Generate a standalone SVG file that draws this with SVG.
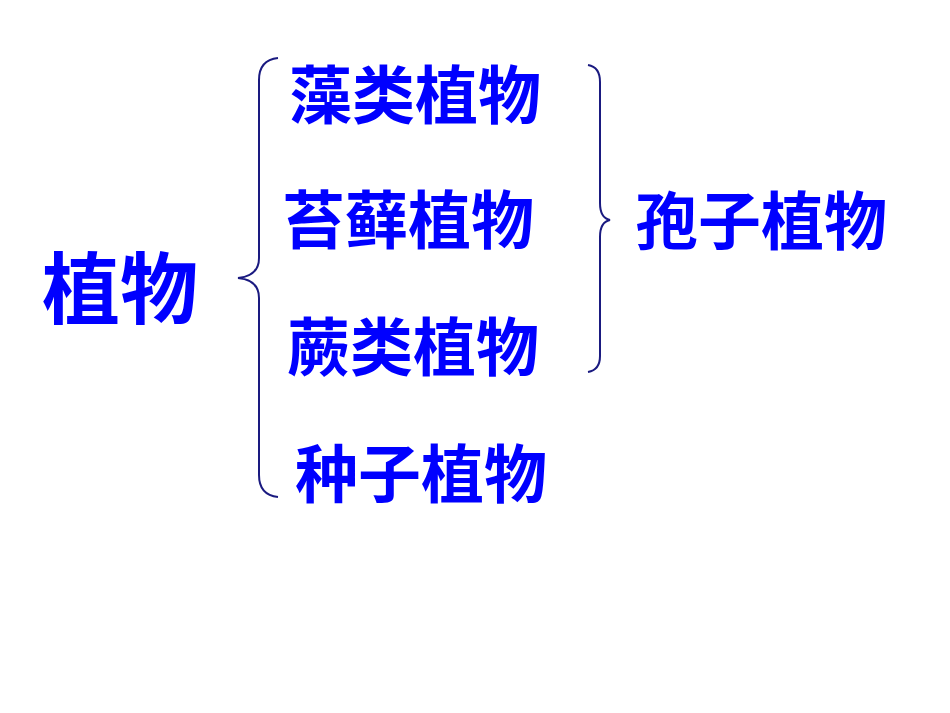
<svg xmlns="http://www.w3.org/2000/svg" width="950" height="713" viewBox="0 0 950 713">
<style>
text{font-family:"Noto Sans CJK SC",sans-serif;font-weight:bold;fill:#0000FF}
.b{fill:none;stroke:#1a1a80;stroke-width:2}
</style>
<rect width="950" height="713" fill="#fff"/>
<g id="connectors">
<path class="b" d="M278,58 Q259,60 259,80 L259,258 Q259,276 238,278 Q259,280 259,298 L259,475 Q259,495 278,497"/>
<path class="b" d="M588,65 Q600,67 600,82 L600,203 Q600,218 610,220 Q600,222 600,237 L600,356 Q600,370 588,372"/>
</g>
<g id="root"><text x="42" y="318" font-size="78">植物</text></g>
<g id="n1"><text x="289" y="118" font-size="63">藻类植物</text></g>
<g id="n2"><text x="282" y="243" font-size="63">苔藓植物</text></g>
<g id="n3"><text x="287" y="370" font-size="63">蕨类植物</text></g>
<g id="n4"><text x="295" y="497" font-size="63">种子植物</text></g>
<g id="n5"><text x="635" y="244" font-size="63">孢子植物</text></g>
</svg>
